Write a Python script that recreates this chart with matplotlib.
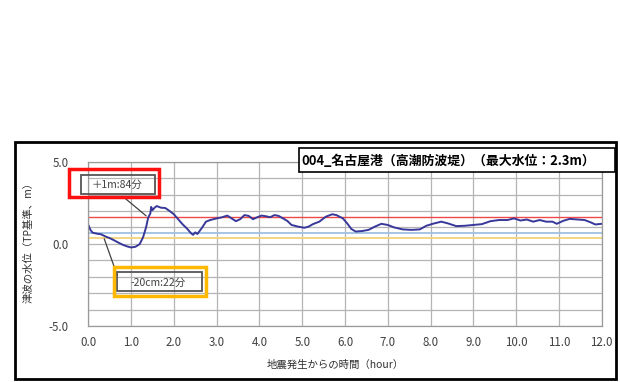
import matplotlib
matplotlib.use("Agg")
import matplotlib.pyplot as plt
from matplotlib.patches import Rectangle

plt.rcParams['font.family'] = ['Noto Sans CJK JP', 'DejaVu Sans']

# ---- data ----
time_h = [0.00, 0.05, 0.10, 0.20, 0.30, 0.40, 0.50, 0.60, 0.70, 0.80, 0.90, 1.00,
          1.10, 1.20, 1.28, 1.35, 1.40, 1.45, 1.47, 1.50, 1.55, 1.60, 1.70, 1.80,
          1.90, 2.00, 2.10, 2.20, 2.30, 2.40, 2.45, 2.50, 2.55, 2.65, 2.75, 2.85,
          3.00, 3.10, 3.25, 3.35, 3.45, 3.55, 3.65, 3.75, 3.85, 3.95, 4.05, 4.15,
          4.25, 4.35, 4.45, 4.55, 4.65, 4.75, 4.90, 5.05, 5.15, 5.25, 5.40, 5.55,
          5.70, 5.80, 5.95, 6.05, 6.15, 6.25, 6.40, 6.55, 6.70, 6.85, 7.00, 7.15,
          7.35, 7.55, 7.75, 7.90, 8.05, 8.25, 8.40, 8.60, 8.80, 9.00, 9.20, 9.40,
          9.60, 9.80, 9.95, 10.10, 10.25, 10.40, 10.55, 10.70, 10.85, 10.95, 11.10,
          11.25, 11.45, 11.60, 11.75, 11.85, 12.00]
level_m = [1.15, 0.85, 0.68, 0.62, 0.58, 0.45, 0.35, 0.22, 0.08, -0.05, -0.15, -0.22,
           -0.18, -0.02, 0.40, 1.00, 1.60, 1.85, 2.25, 2.05, 2.20, 2.30, 2.20, 2.18,
           2.00, 1.80, 1.50, 1.20, 0.95, 0.65, 0.55, 0.70, 0.60, 0.95, 1.35, 1.45,
           1.55, 1.60, 1.72, 1.55, 1.38, 1.50, 1.75, 1.70, 1.50, 1.62, 1.72, 1.68,
           1.62, 1.75, 1.70, 1.55, 1.40, 1.15, 1.05, 0.98, 1.05, 1.20, 1.35, 1.65,
           1.80, 1.75, 1.55, 1.25, 0.90, 0.75, 0.78, 0.85, 1.05, 1.22, 1.15, 1.00,
           0.88, 0.85, 0.88, 1.10, 1.22, 1.35, 1.25, 1.08, 1.10, 1.15, 1.20, 1.38,
           1.45, 1.45, 1.55, 1.42, 1.48, 1.35, 1.45, 1.35, 1.35, 1.22, 1.40,
           1.52, 1.48, 1.45, 1.30, 1.18, 1.22]

ref_red = 1.65      # +1m level
ref_blue = 0.63
ref_yellow = 0.37

x_ticks = [0, 1, 2, 3, 4, 5, 6, 7, 8, 9, 10, 11, 12]
x_tick_labels = ["0.0", "1.0", "2.0", "3.0", "4.0", "5.0", "6.0", "7.0", "8.0",
                 "9.0", "10.0", "11.0", "12.0"]
y_ticks = [-5, 0, 5]
y_tick_labels = ["-5.0", "0.0", "5.0"]

title = "004_名古屋港（高潮防波堤）（最大水位：2.3m）"
xlabel = "地震発生からの時間（hour）"
ylabel = "津波の水位（TP基準、m）"
ann1_text = "＋1m:84分"
ann1_point = (1.40, 1.60)
ann2_text = "-20cm:22分"
ann2_point = (0.35, 0.47)

# ---- figure ----
W, H = 620, 382
fig = plt.figure(figsize=(W / 100, H / 100), dpi=100)

def fx(px):
    return px / W

def fy(py):
    return 1 - py / H

def rect(x0, y0, x1, y1, fill=False, **kw):
    r = Rectangle((fx(x0), fy(y1)), fx(x1) - fx(x0), fy(y0) - fy(y1),
                  transform=fig.transFigure, fill=fill, **kw)
    fig.patches.append(r)
    return r

# outer frame
rect(15, 142, 616, 379, edgecolor='black', linewidth=2.0)

ax = fig.add_axes([fx(88.3), fy(326), fx(601.7) - fx(88.3), fy(161.7) - fy(326)])
ax.set_xlim(0, 12)
ax.set_ylim(-5, 5)
ax.set_xticks(x_ticks)
ax.set_xticklabels(x_tick_labels)
ax.set_yticks(y_ticks)
ax.set_yticklabels(y_tick_labels)
ax.set_yticks(range(-5, 6), minor=True)
ax.grid(True, which='both', color='#b4b4b4', linewidth=0.9)
ax.set_axisbelow(True)
for s in ax.spines.values():
    s.set_color('#9a9a9a')
    s.set_linewidth(0.9)
ax.tick_params(which='both', length=0, labelsize=8.3, colors='#404040')
ax.tick_params(axis='x', pad=7)
ax.tick_params(axis='y', pad=14)

ax.axhline(ref_yellow, color='#f2d37a', linewidth=1.3)
ax.axhline(ref_blue, color='#9fbfe0', linewidth=1.3)
ax.axhline(ref_red, color='#f04848', linewidth=1.0)
ax.plot(time_h, level_m, color='#38389a', linewidth=1.4)

# axis labels
fig.text(fx(335), fy(365), xlabel, ha='center', va='center', fontsize=7.5, color='#303030')
fig.text(fx(29), fy(240), ylabel, ha='center', va='center', rotation=90,
         fontsize=7.5, color='#303030')

# title box
rect(298.5, 148, 614.5, 172, fill=True, edgecolor='black', linewidth=1.2, facecolor='white')
fig.text(fx(301), fy(160.5), title, ha='left', va='center', fontsize=9.3,
         fontweight='bold', color='black')

# annotation 1
ax.annotate("", xy=ann1_point, xycoords='data',
            xytext=(fx(121.7), fy(195.5)), textcoords='figure fraction',
            arrowprops=dict(arrowstyle='-', color='#404040', linewidth=0.9))
rect(80.7, 174.5, 155, 194, edgecolor='#555555', linewidth=1.3)
rect(68.5, 168.5, 159, 196.5, edgecolor='#ff1010', linewidth=2.5)
fig.text(fx(117), fy(184.5), ann1_text, ha='center', va='center', fontsize=7.5, color='#404040')

# annotation 2
ax.annotate("", xy=ann2_point, xycoords='data',
            xytext=(fx(118.3), fy(278.3)), textcoords='figure fraction',
            arrowprops=dict(arrowstyle='-', color='#404040', linewidth=0.9))
rect(116.7, 271.7, 202.3, 291, edgecolor='#555555', linewidth=1.3)
rect(113.5, 267, 205.5, 295.5, edgecolor='#ffb800', linewidth=2.5)
fig.text(fx(158), fy(283), ann2_text, ha='center', va='center', fontsize=7.5, color='#404040')

fig.savefig("out.png", dpi=100)
